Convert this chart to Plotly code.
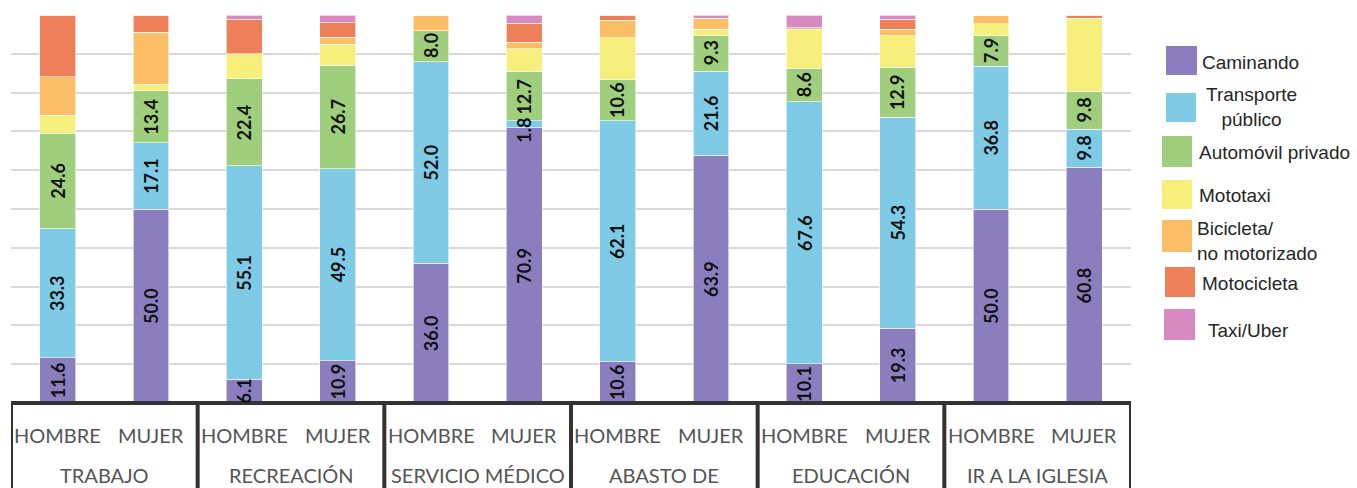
import plotly.graph_objects as go

# ---- data ----
categories = ["TRABAJO", "RECREACIÓN", "SERVICIO MÉDICO", "ABASTO DE", "EDUCACIÓN", "IR A LA IGLESIA"]
genders = ["HOMBRE", "MUJER"]

caminando   = [11.6, 50.0, 6.1, 10.9, 36.0, 70.9, 10.6, 63.9, 10.1, 19.3, 50.0, 60.8]
transporte  = [33.3, 17.1, 55.1, 49.5, 52.0, 1.8, 62.1, 21.6, 67.6, 54.3, 36.8, 9.8]
automovil   = [24.6, 13.4, 22.4, 26.7, 8.0, 12.7, 10.6, 9.3, 8.6, 12.9, 7.9, 9.8]
mototaxi    = [4.7, 1.7, 6.4, 5.3, 0.0, 5.9, 10.8, 1.5, 10.0, 8.1, 3.0, 18.7]
bicicleta   = [9.9, 13.4, 0.0, 1.9, 4.0, 1.7, 4.6, 2.8, 0.4, 1.7, 2.3, 0.0]
motocicleta = [15.9, 4.4, 8.9, 3.7, 0.0, 4.9, 1.3, 0.0, 0.0, 2.6, 0.0, 0.9]
taxi_uber   = [0.0, 0.0, 1.1, 2.0, 0.0, 2.1, 0.0, 0.9, 3.3, 1.1, 0.0, 0.0]

series_names = ["Caminando", "Transporte<br>público", "Automóvil privado", "Mototaxi",
                "Bicicleta/<br>no motorizado", "Motocicleta", "Taxi/Uber"]
series_values = [caminando, transporte, automovil, mototaxi, bicicleta, motocicleta, taxi_uber]
series_labeled = [True, True, True, False, False, False, False]
colors = ["#8a7ebf", "#7fcbe6", "#9fcf7c", "#f7ef7c", "#fbbe66", "#ee8059", "#d68abf"]

bar_labels = [g for c in categories for g in genders]
xpos = list(range(len(bar_labels)))

# ---- layout geometry (pixels) ----
W, H = 1357, 488
ML, MR, MT, MB = 11, 226, 15, 85
PW, PH = W - ML - MR, H - MT - MB

def px_x(px):
    return (px - ML) / PW

def px_y(py):
    return (H - MB - py) / PH

fig = go.Figure()
annotations = []
base = [0.0] * len(xpos)
for name, vals, lab, col in zip(series_names, series_values, series_labeled, colors):
    fig.add_trace(go.Bar(
        x=xpos, y=vals, name=name,
        marker=dict(color=col, line=dict(color="rgba(255,255,255,0.6)", width=1)),
        width=0.385, showlegend=False, hoverinfo="skip",
    ))
    if lab:
        for i, v in enumerate(vals):
            if v > 0:
                annotations.append(dict(
                    x=xpos[i], y=base[i] + v / 2, xref="x", yref="y", text=f"{v:.1f}",
                    showarrow=False, textangle=-90, xanchor="center", yanchor="middle",
                    yshift=-6 if v < 3 else 0,
                    font=dict(family="Lato", size=18, color="#111111", weight="bold")))
    base = [b + v for b, v in zip(base, vals)]

shapes = []
LINE = dict(color="#333333", width=4)
# box at bottom
shapes.append(dict(type="rect", xref="paper", yref="paper", x0=-0.02, x1=1.0,
                   y0=-0.3, y1=0, fillcolor="white", line=dict(width=0), layer="above"))
shapes.append(dict(type="line", xref="x", yref="paper", x0=-0.5, x1=len(xpos) - 0.5,
                   y0=0, y1=0, line=LINE, layer="above"))
for k in range(len(categories) + 1):
    xx = -0.5 + 2 * k
    shapes.append(dict(type="line", xref="x", yref="paper", x0=xx, x1=xx,
                       y0=0, y1=-0.3, line=LINE, layer="above"))
for i, g in zip(xpos, bar_labels):
    annotations.append(dict(x=i, y=px_y(435), xref="x", yref="paper", text=g,
                            showarrow=False, xanchor="center", yanchor="middle",
                            font=dict(family="Lato", size=20, color="#555555")))
for k, c in enumerate(categories):
    annotations.append(dict(x=2 * k + 0.5, y=px_y(475), xref="x", yref="paper", text=c,
                            showarrow=False, xanchor="center", yanchor="middle",
                            font=dict(family="Lato", size=20, color="#555555")))

# legend (manual, large swatches)
sw = [(1166, 46, 1197, 75), (1166, 93, 1196, 122), (1162, 136, 1192, 167),
      (1162, 180, 1192, 209), (1162, 220, 1192, 252), (1165, 267, 1195, 297),
      (1164, 309, 1195, 340)]
txt = [(1200, 62, "left"), (1204, 107, "center"), (1197, 152, "left"), (1197, 195, "left"),
       (1195, 241, "left"), (1200, 283, "left"), (1206, 330, "left")]
for (x0, y0, x1, y1), (tx, ty, al), name, col in zip(sw, txt, series_names, colors):
    shapes.append(dict(type="rect", xref="paper", yref="paper",
                       x0=px_x(x0), x1=px_x(x1), y0=px_y(y1), y1=px_y(y0),
                       fillcolor=col, line=dict(width=0)))
    annotations.append(dict(x=px_x(tx), y=px_y(ty), xref="paper", yref="paper", text=name,
                            showarrow=False, xanchor="left", yanchor="middle", align=al,
                            font=dict(family="Liberation Sans, Arial", size=19, color="#262626")))

fig.update_layout(
    width=W, height=H, barmode="stack",
    margin=dict(l=ML, r=MR, t=MT, b=MB),
    paper_bgcolor="white", plot_bgcolor="white",
    xaxis=dict(range=[-0.5, len(xpos) - 0.5], showticklabels=False, showgrid=False,
               zeroline=False, showline=False, ticks=""),
    yaxis=dict(range=[0, 100], dtick=10, showticklabels=False, showgrid=True,
               gridcolor="#d9d9d9", gridwidth=1.5, zeroline=False, showline=False, ticks=""),
    shapes=shapes, annotations=annotations, showlegend=False,
)

fig.write_html("out.html", config={"displayModeBar": False},
               post_script="document.body.style.margin='0';document.body.style.overflow='hidden';")
